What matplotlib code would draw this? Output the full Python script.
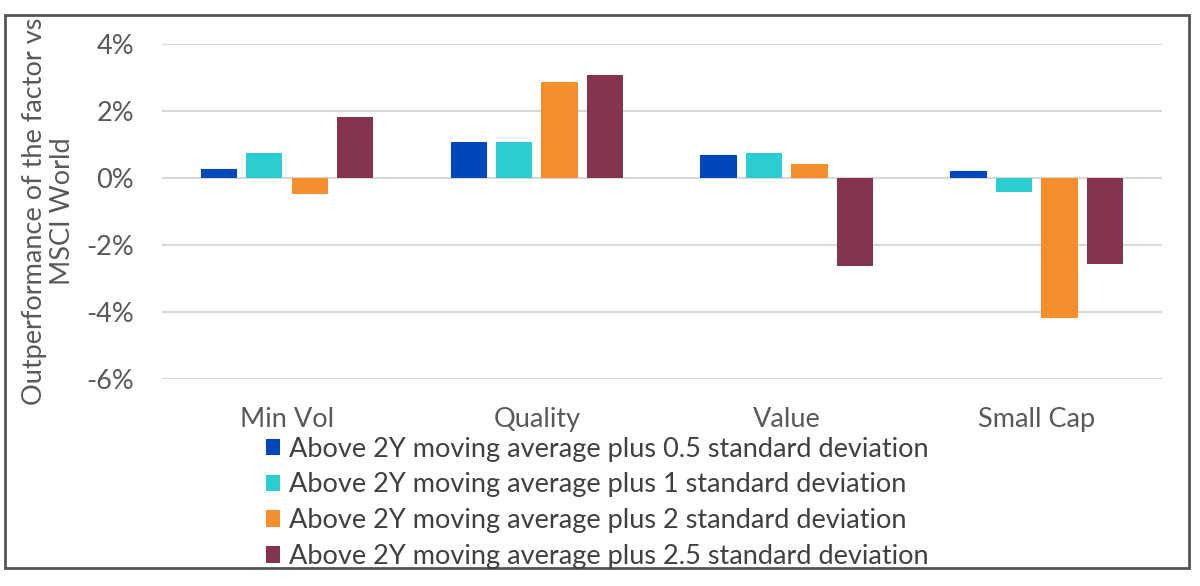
import numpy as np
import matplotlib.pyplot as plt
from matplotlib.patches import Rectangle, Patch

plt.rcParams['font.family'] = ['Lato', 'DejaVu Sans']

categories = ['Min Vol', 'Quality', 'Value', 'Small Cap']
series_names = ['Above 2Y moving average plus 0.5 standard deviation',
                'Above 2Y moving average plus 1 standard deviation',
                'Above 2Y moving average plus 2 standard deviation',
                'Above 2Y moving average plus 2.5 standard deviation']
plus_05sd = [0.27, 1.08, 0.70, 0.21]
plus_1sd = [0.76, 1.08, 0.76, -0.42]
plus_2sd = [-0.48, 2.87, 0.42, -4.18]
plus_25sd = [1.82, 3.07, -2.64, -2.57]
colors = ['#0047BB', '#2CCCD3', '#F58F2E', '#85344D']

values = [plus_05sd, plus_1sd, plus_2sd, plus_25sd]

fs = 19.5

fig = plt.figure(figsize=(12, 5.86), dpi=100)
ax = fig.add_axes([0.135, 1 - 379 / 586, 0.833, (379 - 44) / 586])

x = np.arange(len(categories))
step = 0.182
width = 0.145
for i, vals in enumerate(values):
    ax.bar(x + (i - 1.5) * step, vals, width, color=colors[i], zorder=3,
           label=series_names[i])

ax.set_xlim(-0.5, 3.5)
ax.set_ylim(-6, 4)
ax.set_yticks([4, 2, 0, -2, -4, -6])
ax.set_yticklabels(['4%', '2%', '0%', '-2%', '-4%', '-6%'])
ax.set_xticks(x)
ax.set_xticklabels(categories)
ax.tick_params(axis='both', length=0, labelsize=fs, colors='#595959')
ax.tick_params(axis='y', pad=20)
ax.tick_params(axis='x', pad=20)
ax.grid(axis='y', color='#D9D9D9', linewidth=1.5, zorder=0)
for s in ax.spines.values():
    s.set_visible(False)

fig.text(22 / 1200, 1 - 211 / 586, 'Outperformance of the factor vs\nMSCI World',
         rotation=90, ha='left', va='center', fontsize=fs, color='#595959',
         multialignment='center', linespacing=1.15)

handles = [Patch(facecolor=c) for c in colors]
fig.legend(handles, series_names, loc='upper left',
           bbox_to_anchor=(252 / 1200, 1 - 423 / 586), frameon=False,
           fontsize=fs, handlelength=0.55, handleheight=0.55, handletextpad=0.3,
           labelspacing=0.4, labelcolor='#404040', borderpad=0)

fig.patches.append(Rectangle((5 / 1200, 1 - 568 / 586), 1184 / 1200, 553 / 586,
                             transform=fig.transFigure, fill=False,
                             edgecolor='#555555', linewidth=2))

fig.savefig('out.png', dpi=100)
